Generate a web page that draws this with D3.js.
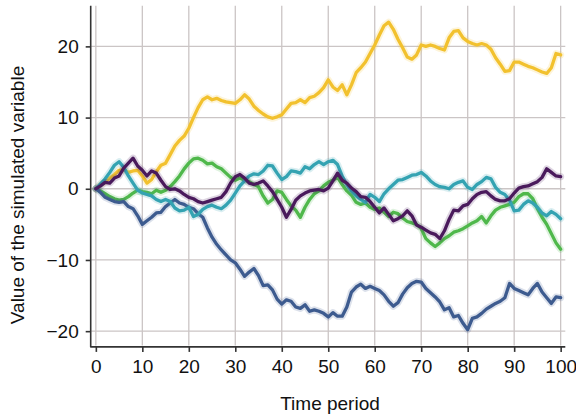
<!DOCTYPE html>
<html>
<head>
<meta charset="utf-8">
<script src="https://cdn.jsdelivr.net/npm/d3@7/dist/d3.min.js"></script>
<style>
  html, body { margin: 0; padding: 0; background: #fff; }
  svg { display: block; font-family: "Liberation Sans", Arial, sans-serif; }
</style>
</head>
<body>
<div id="chart"></div>
<script>
// Five simulated random walks (t = 0 .. 100)
const periods = d3.range(0, 101);
const xTicks = [0, 10, 20, 30, 40, 50, 60, 70, 80, 90, 100];
const yTicks = [-20, -10, 0, 10, 20];

const walkPurple = [
  0, 0.4, 0.9, 0.8, 1.5, 1.8, 2.9, 3.6, 4.3, 3.2,
  2.6, 1.8, 2.5, 2.2, 1.2, 0.3, -0.1, 0.0, -0.3, -0.8,
  -1.2, -1.4, -1.8, -2.0, -1.8, -1.6, -1.4, -1.2, -0.4, 0.8,
  1.7, 2.0, 1.5, 0.8, 0.6, 0.8, 1.1, 0.4, -0.4, -1.5,
  -2.6, -4.0, -2.9, -1.6, -1.0, -0.6, -0.3, -0.2, -0.1, -0.3,
  0.1, 1.1, 2.2, 1.2, 0.8, 0.1, -0.4, -1.1, -1.2, -1.8,
  -2.6, -3.4, -2.7, -3.6, -4.5, -4.2, -3.8, -3.1, -3.8, -5.1,
  -5.4, -5.8, -6.2, -6.4, -7.0, -5.9, -4.3, -3.0, -3.1, -2.4,
  -2.2, -1.4, -0.8, -0.5, -0.4, -1.0, -1.5, -1.7, -1.7, -1.4,
  -0.6, 0.1, 0.3, 0.4, 0.7, 1.0, 1.6, 2.8, 2.3, 1.8,
  1.7
];

const walkBlue = [
  0, -0.5, -1.2, -1.5, -1.8, -1.9, -1.8, -2.5, -2.8, -3.8,
  -5.0, -4.5, -4.0, -3.4, -3.3, -2.5, -2.0, -1.5, -2.0, -2.2,
  -2.6, -2.8, -3.5, -4.0, -5.5, -6.8, -7.8, -8.6, -9.3, -10.0,
  -10.4, -11.3, -12.3, -11.7, -11.2, -12.2, -13.6, -13.5, -14.2, -15.5,
  -16.2, -15.6, -15.8, -16.6, -16.8, -16.3, -17.2, -17.0, -17.2, -17.5,
  -18.0, -17.4, -17.9, -17.9, -16.6, -14.5, -13.8, -13.4, -14.0, -13.7,
  -14.0, -14.3, -14.9, -15.8, -16.5, -16.0, -14.8, -13.9, -13.3, -13.0,
  -13.1, -14.0, -14.6, -15.2, -15.9, -17.0, -16.7, -18.0, -17.8, -18.9,
  -19.8, -18.2, -18.0, -17.5, -16.9, -16.5, -16.1, -15.8, -15.3, -13.3,
  -14.0, -14.3, -14.6, -14.9, -14.0, -13.3, -14.5, -15.3, -16.1, -15.2,
  -15.3
];

const walkTeal = [
  0, 0.7, 1.4, 2.3, 3.3, 3.8, 3.0, 1.8, 0.8, -0.2,
  -0.6, -0.8, -1.0, -1.5, -1.8, -1.5, -1.8, -2.7, -3.1, -3.0,
  -2.6, -3.9, -3.6, -2.9, -2.5, -2.3, -2.6, -2.8, -2.3, -1.6,
  -0.6, 0.4, 1.1, 1.8, 2.1, 2.0, 2.5, 3.3, 3.2, 2.2,
  1.3, 1.7, 2.5, 2.4, 2.2, 3.1, 2.8, 3.4, 3.8, 3.4,
  3.8, 4.0, 3.4, 1.8, 0.6, -0.3, -1.0, -1.5, -1.9, -0.8,
  -1.2, -1.8, -0.7, 0.0, 0.6, 1.2, 1.3, 1.6, 1.9, 2.0,
  2.3, 1.8, 1.1, 0.6, 0.3, 0.2, 0.0, 0.6, 0.9, 1.1,
  0.2, -0.1, 0.6, 1.0, 1.6, 1.4, 0.2, -0.5, -0.8, -1.6,
  -3.1, -3.0, -2.2, -1.7, -2.0, -2.6, -3.4, -3.8, -3.2, -3.6,
  -4.2
];

const walkGreen = [
  0, -0.3, -0.7, -1.1, -1.4, -1.6, -1.5, -1.1, -0.6, -0.2,
  -0.4, -0.5, -0.7, -0.2, -0.5, -0.2, 0.3, 1.0, 1.8, 2.8,
  3.6, 4.2, 4.3, 4.0, 3.5, 3.6, 3.1, 2.8, 2.2, 1.6,
  1.2, 1.5, 1.2, 1.0, 0.6, 0.3, -1.0, -2.0, -1.5, -0.3,
  -0.5, -1.5, -2.4, -3.0, -4.0, -2.6, -1.5, -0.7, -0.3, 0.4,
  0.9, 1.2, 1.6, 0.6, -0.3, -0.9, -1.9, -2.2, -2.0, -2.6,
  -2.9, -2.7, -3.3, -3.9, -3.3, -3.5, -4.1, -4.6, -4.8, -5.0,
  -5.6, -7.0, -7.6, -8.1, -7.6, -7.0, -6.6, -6.1, -5.9, -5.6,
  -5.2, -4.8, -4.5, -3.9, -4.8, -3.8, -3.0, -2.6, -2.4, -2.2,
  -1.9, -1.1, -0.7, -0.7, -1.4, -2.8, -4.0, -5.0, -6.3, -7.6,
  -8.5
];

const walkYellow = [
  0, 0.6, 1.0, 1.5, 2.0, 2.6, 2.7, 2.3, 2.5, 2.6,
  1.8, 0.8, 1.3, 2.4, 3.3, 3.6, 4.8, 6.0, 6.8, 7.4,
  8.5, 10.0, 11.4, 12.5, 12.9, 12.5, 12.7, 12.4, 12.2, 12.1,
  12.0, 12.5, 13.2, 12.6, 11.6, 11.0, 10.5, 10.1, 9.9, 10.1,
  10.4, 11.2, 12.0, 12.1, 12.5, 12.1, 12.8, 13.0, 13.5, 14.2,
  15.3, 14.3, 13.8, 14.6, 13.2, 14.6, 16.3, 17.0, 17.8, 19.0,
  20.2, 21.6, 22.9, 23.4, 22.4, 21.0, 19.8, 18.5, 18.2, 18.8,
  20.2, 20.0, 20.2, 20.0, 19.7, 19.5, 21.2, 22.1, 22.2, 21.2,
  20.7, 20.4, 20.2, 20.4, 20.2, 19.6, 18.4, 17.5, 16.5, 16.6,
  17.8, 17.8, 17.5, 17.2, 17.0, 16.7, 16.4, 16.2, 17.0, 19.0,
  18.8
];

// drawing order (last on top)
const seriesList = [
  { name: "yellow", values: walkYellow, color: "#f2c12e" },
  { name: "green",  values: walkGreen,  color: "#4fb84b" },
  { name: "blue",   values: walkBlue,   color: "#3d5b8f" },
  { name: "teal",   values: walkTeal,   color: "#34a3b2" },
  { name: "purple", values: walkPurple, color: "#4a1a5c" }
];

const width = 576, height = 414;
const svg = d3.select("#chart").append("svg")
  .attr("width", width).attr("height", height);

const x = d3.scaleLinear().domain([-1, 101]).range([91.2, 565.3]);
const y = d3.scaleLinear().domain([-22, 25.7]).range([345.4, 5.8]);

const gridColor = "#cbc5c5";
const fontSize = "19px";

// grid
svg.append("g").selectAll("line").data(xTicks).join("line")
  .attr("x1", d => x(d)).attr("x2", d => x(d))
  .attr("y1", y.range()[1]).attr("y2", y.range()[0])
  .attr("stroke", gridColor).attr("stroke-width", 1.3);
svg.append("g").selectAll("line").data(yTicks).join("line")
  .attr("y1", d => y(d)).attr("y2", d => y(d))
  .attr("x1", x.range()[0]).attr("x2", x.range()[1])
  .attr("stroke", gridColor).attr("stroke-width", 1.3);

// lines
const line = d3.line()
  .x((d, i) => x(periods[i]))
  .y(d => y(d));

const lines = svg.append("g").attr("fill", "none")
  .attr("stroke-linejoin", "round").attr("stroke-linecap", "round");

seriesList.forEach(s => {
  lines.append("path")
    .attr("d", line(s.values))
    .attr("stroke", s.color).attr("stroke-opacity", 0.18)
    .attr("stroke-width", 7);
  lines.append("path")
    .attr("d", line(s.values))
    .attr("stroke", s.color)
    .attr("stroke-width", 3.3);
});

// axes
const xAxis = svg.append("g")
  .attr("transform", `translate(0,${y.range()[0] + 1.5})`)
  .call(d3.axisBottom(x).tickValues(xTicks).tickSize(5).tickPadding(8));
const yAxis = svg.append("g")
  .attr("transform", `translate(${x.range()[0] - 0.5},0)`)
  .call(d3.axisLeft(y).tickValues(yTicks).tickSize(5).tickPadding(7)
    .tickFormat(d => d < 0 ? "\u2212" + Math.abs(d) : d));

[xAxis, yAxis].forEach(g => {
  g.select(".domain").attr("stroke", "#333").attr("stroke-width", 1.6);
  g.selectAll(".tick line").attr("stroke", "#333").attr("stroke-width", 1.6);
  g.selectAll(".tick text").attr("fill", "#111")
    .style("font-size", fontSize)
    .style("font-family", "'Liberation Sans', Arial, sans-serif");
});
xAxis.select(".domain").attr("d", `M${x.range()[0] - 1},0H${x.range()[1]}`);
yAxis.select(".domain").attr("d", `M0,${y.range()[0] + 1.5}V${y.range()[1]}`);

// axis titles
svg.append("text")
  .attr("x", 330).attr("y", 410)
  .attr("text-anchor", "middle")
  .attr("fill", "#111")
  .style("font-size", fontSize)
  .text("Time period");

svg.append("text")
  .attr("transform", "translate(24,195) rotate(-90)")
  .attr("text-anchor", "middle")
  .attr("fill", "#111")
  .style("font-size", fontSize)
  .text("Value of the simulated variable");
</script>
</body>
</html>
